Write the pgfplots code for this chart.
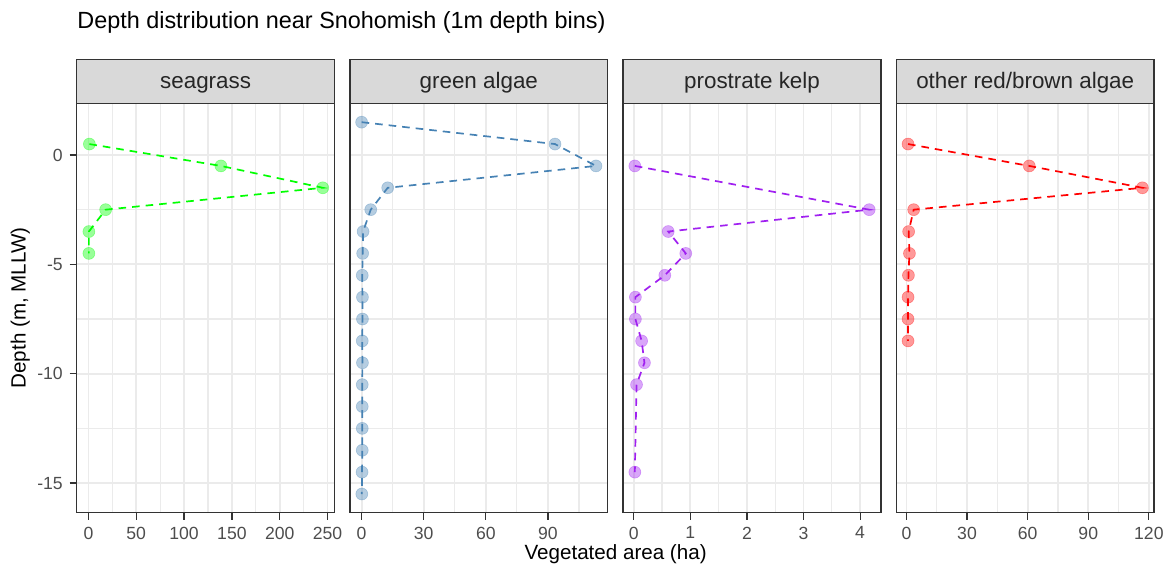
\documentclass[border=0pt]{standalone}
\usepackage{pgfplots}
\pgfplotsset{compat=1.18}
\usepackage{fontspec}
\setmainfont{Liberation Sans}
\definecolor{gsea}{HTML}{00FF00}
\definecolor{gblue}{HTML}{4682B4}
\definecolor{gpurp}{HTML}{A020F0}
\definecolor{gred}{HTML}{FF0000}
\definecolor{g92}{HTML}{EBEBEB}
\definecolor{g85}{HTML}{D9D9D9}
\definecolor{g20}{HTML}{333333}
\definecolor{g30}{HTML}{4D4D4D}
\pgfplotsset{
  facet/.style={
    scale only axis, width=128.9pt, height=204.5pt,
    anchor=south west, clip=false,
    ymin=-16.35, ymax=2.35,
    ytick={-15,-10,-5,0}, yticklabels={-15,-10,-5,0},
    minor ytick={-12.5,-7.5,-2.5,2.5},
    grid=both,
    major grid style={g92, line width=0.9pt},
    minor grid style={g92, line width=0.55pt},
    minor tick length=0pt, major tick length=3.5pt,
    tick align=outside, xtick pos=bottom, ytick pos=left,
    tick style={g20, line width=0.6pt},
    axis line style={g20, line width=0.7pt},
    tick label style={font=\fontsize{8.8}{10}\selectfont, text=g30},
    xticklabel style={inner sep=0pt, anchor=north, yshift=-3.4pt},
    yticklabel style={inner sep=0pt, anchor=east, xshift=-3.3pt},
  },
  noy/.style={yticklabels={}, ytick style={draw=none}},
  ser/.style={color=#1, line width=0.85pt, dash pattern=on 3.8pt off 3pt,
    mark=*, mark size=3pt,
    mark options={solid, fill=#1, draw=#1, fill opacity=0.4, draw opacity=0.35, line width=0.3pt}},
}
\newcommand\strip[1]{%
  \draw[g20, line width=0.7pt, fill=g85] (rel axis cs:0,1) rectangle ([yshift=22.15pt]rel axis cs:1,1);
  \node[font=\fontsize{11.2}{13}\selectfont, text=black!85, anchor=base] at ([yshift=7.3pt]rel axis cs:0.5,1) {#1};
  \draw[g20, line width=0.7pt] (rel axis cs:0,0) rectangle (rel axis cs:1,1);
}
\begin{document}
\begin{tikzpicture}
\useasboundingbox (0,0) rectangle (585pt,285.5pt);
\node[anchor=base west, font=\fontsize{11.7}{14}\selectfont, inner sep=0pt] at (38.5pt,271.35pt) {Depth distribution near Snohomish (1m depth bins)};
\node[rotate=90, font=\fontsize{10.3}{12}\selectfont, inner sep=0pt] at (10.2pt,131.5pt) {Depth (m, MLLW)};
\node[font=\fontsize{10.3}{12}\selectfont, inner sep=0pt] at (307.8pt,8.4pt) {Vegetated area (ha)};

% seagrass
\begin{axis}[facet, at={(38.35pt,29.2pt)},
  xmin=-12.25, xmax=257.25,
  xtick={0,50,100,150,200,250}, xticklabels={0,50,100,150,200,250},
  minor xtick={25,75,125,175,225}]
\addplot[ser=gsea] coordinates {(1,0.5) (138.5,-0.5) (245,-1.5) (18,-2.5) (0.5,-3.5) (0.5,-4.5)};
\strip{seagrass}
\end{axis}

% green algae
\begin{axis}[facet, noy, at={(174.95pt,29.2pt)},
  xmin=-5.66, xmax=118.86,
  xtick={0,30,60,90}, xticklabels={0,30,60,90},
  minor xtick={15,45,75,105}]
\addplot[ser=gblue] coordinates {(0,1.5) (93.4,0.5) (113.2,-0.5) (12.6,-1.5) (4.4,-2.5) (0.7,-3.5) (0.5,-4.5) (0.3,-5.5) (0.4,-6.5) (0.4,-7.5) (0.3,-8.5) (0.4,-9.5) (0.3,-10.5) (0.3,-11.5) (0.3,-12.5) (0.3,-13.5) (0.2,-14.5) (0.1,-15.5)};
\strip{green algae}
\end{axis}

% prostrate kelp
\begin{axis}[facet, noy, at={(311.55pt,29.2pt)},
  xmin=-0.187, xmax=4.367,
  xtick={0,1,2,3,4}, xticklabels={0,1,2,3,4},
  minor xtick={0.5,1.5,2.5,3.5}]
\addplot[ser=gpurp] coordinates {(0.02,-0.5) (4.16,-2.5) (0.61,-3.5) (0.92,-4.5) (0.55,-5.5) (0.03,-6.5) (0.03,-7.5) (0.14,-8.5) (0.19,-9.5) (0.05,-10.5) (0.02,-14.5)};
\strip{prostrate kelp}
\end{axis}

% other red/brown algae
\begin{axis}[facet, noy, at={(448.15pt,29.2pt)},
  xmin=-5.0, xmax=122.6,
  xtick={0,30,60,90,120}, xticklabels={0,30,60,90,120},
  minor xtick={15,45,75,105}]
\addplot[ser=gred] coordinates {(0.8,0.5) (60.8,-0.5) (116.8,-1.5) (3.6,-2.5) (1.1,-3.5) (1.5,-4.5) (1.0,-5.5) (0.8,-6.5) (0.8,-7.5) (0.8,-8.5)};
\strip{other red/brown algae}
\end{axis}
\end{tikzpicture}
\end{document}
